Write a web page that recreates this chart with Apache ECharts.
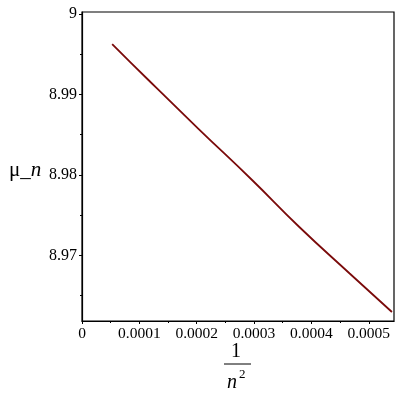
<!DOCTYPE html>
<html>
<head>
<meta charset="utf-8">
<style>
  html, body { margin: 0; padding: 0; background: #fff; }
  #main { width: 400px; height: 400px; }
</style>
<script src="https://cdn.jsdelivr.net/npm/echarts@6/dist/echarts.min.js"></script>
</head>
<body>
<div id="main"></div>
<script>
// values
const invN2 = [0.0000526, 0.0001158, 0.0002035, 0.0002965, 0.0003789, 0.0004667, 0.0005404];
const mu = [8.99627, 8.99180, 8.98571, 8.97938, 8.97354, 8.96776, 8.96298];

const xTicks = [0, 0.0001, 0.0002, 0.0003, 0.0004, 0.0005];
const xTickLabels = ['0', '0.0001', '0.0002', '0.0003', '0.0004', '0.0005'];
const xMinor = [0.00005, 0.00015, 0.00025, 0.00035, 0.00045];
const yTicks = [8.97, 8.98, 8.99, 9];
const yTickLabels = ['8.97', '8.98', '8.99', '9'];
const yMinor = [8.965, 8.975, 8.985, 8.995];

const xMin = 0, xMax = 0.000544;
const yMin = 8.96186, yMax = 9.00025;

const font = '"Liberation Serif", "DejaVu Serif", serif';

function lookup(ticks, labels) {
    return function (v) {
        for (let i = 0; i < ticks.length; i++) {
            if (Math.abs(v - ticks[i]) < 1e-9) return labels[i];
        }
        return '';
    };
}

const chart = echarts.init(document.getElementById('main'));
chart.setOption({
    animation: false,
    grid: {
        left: 82,
        right: 6,
        top: 12,
        bottom: 79,
        show: true,
        borderColor: '#000',
        borderWidth: 1.2,
        backgroundColor: 'transparent'
    },
    xAxis: [{
        type: 'value',
        min: xMin,
        max: xMax,
        axisLine: { show: true, lineStyle: { color: '#000', width: 1.2 } },
        axisTick: { show: true, customValues: xTicks, length: 3, lineStyle: { color: '#000' } },
        axisLabel: {
            customValues: xTicks,
            formatter: lookup(xTicks, xTickLabels),
            color: '#000',
            fontFamily: font,
            fontSize: 15.5,
            margin: 5
        },
        splitLine: { show: false }
    }, {
        type: 'value',
        position: 'bottom',
        min: xMin,
        max: xMax,
        axisLine: { show: false },
        axisTick: { show: true, customValues: xMinor, length: 2, lineStyle: { color: '#000' } },
        axisLabel: { show: false },
        splitLine: { show: false }
    }],
    yAxis: [{
        type: 'value',
        min: yMin,
        max: yMax,
        axisLine: { show: true, lineStyle: { color: '#000', width: 1.2 } },
        axisTick: { show: true, customValues: yTicks, length: 3, lineStyle: { color: '#000' } },
        axisLabel: {
            customValues: yTicks,
            formatter: lookup(yTicks, yTickLabels),
            color: '#000',
            fontFamily: font,
            fontSize: 16,
            margin: 5
        },
        splitLine: { show: false }
    }, {
        type: 'value',
        position: 'left',
        min: yMin,
        max: yMax,
        axisLine: { show: false },
        axisTick: { show: true, customValues: yMinor, length: 2, lineStyle: { color: '#000' } },
        axisLabel: { show: false },
        splitLine: { show: false }
    }],
    graphic: [
        {
            type: 'text',
            left: 9,
            top: 160,
            style: {
                text: '{a|μ_}{b|n}',
                rich: {
                    a: { fontFamily: font, fontSize: 21, fill: '#000' },
                    b: { fontFamily: font, fontSize: 21, fontStyle: 'italic', fill: '#000' }
                }
            }
        },
        {
            type: 'text',
            left: 231,
            top: 342,
            style: { text: '1', font: '20px ' + font, fill: '#000' }
        },
        {
            type: 'line',
            shape: { x1: 224, y1: 364, x2: 251, y2: 364 },
            style: { stroke: '#000', lineWidth: 1 }
        },
        {
            type: 'text',
            left: 227,
            top: 373,
            style: { text: 'n', font: 'italic 20px ' + font, fill: '#000' }
        },
        {
            type: 'text',
            left: 239,
            top: 368,
            style: { text: '2', font: '13px ' + font, fill: '#000' }
        }
    ],
    series: [{
        type: 'line',
        xAxisIndex: 0,
        yAxisIndex: 0,
        data: invN2.map((x, i) => [x, mu[i]]),
        smooth: true,
        showSymbol: false,
        lineStyle: { color: '#7a0a0a', width: 1.8 }
    }]
});
</script>
</body>
</html>
